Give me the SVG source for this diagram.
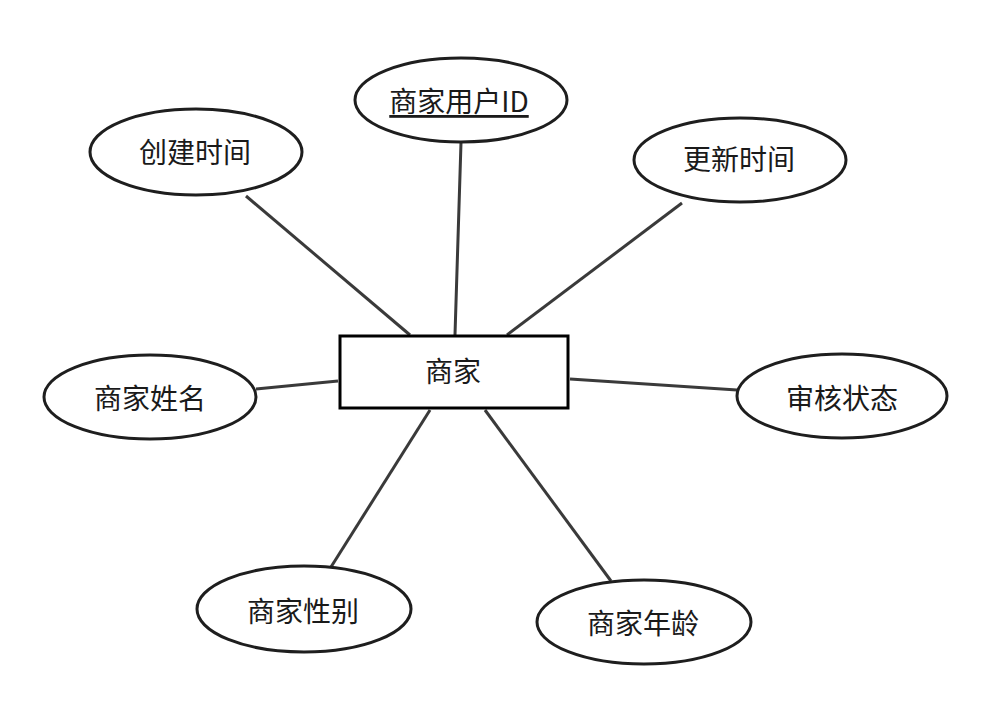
<svg xmlns="http://www.w3.org/2000/svg" width="992" height="720" viewBox="0 0 992 720">
<style>
.attr ellipse{fill:#fff;stroke:#1e1e1e;stroke-width:3}
.ent rect{fill:#fff;stroke:#000;stroke-width:3}
text{font-family:"Microsoft YaHei","Noto Sans CJK SC","Noto Sans",sans-serif;font-size:28px;fill:#1a1a1a;text-anchor:middle;dominant-baseline:central}
.conn line{stroke:#3a3a3a;stroke-width:3}
</style>
<rect width="992" height="720" fill="#fff"/>
<g class="conn" id="connectors">
<line x1="246" y1="196" x2="410" y2="335"/>
<line x1="461" y1="143" x2="455" y2="335"/>
<line x1="682" y1="203" x2="507" y2="335"/>
<line x1="256" y1="389" x2="338" y2="381"/>
<line x1="570" y1="379" x2="737" y2="390"/>
<line x1="331" y1="567" x2="430" y2="410"/>
<line x1="611" y1="581" x2="485" y2="410"/>
</g>
<g class="ent" id="merchant">
<rect x="340" y="336" width="228" height="72"/>
<text x="453" y="370">商家</text>
</g>
<g class="attr" id="attr-id">
<ellipse cx="461" cy="100" rx="106" ry="42"/>
<text x="459" y="100" text-decoration="underline">商家用户ID</text>
</g>
<g class="attr" id="attr-created">
<ellipse cx="196" cy="152" rx="106" ry="43"/>
<text x="195" y="151">创建时间</text>
</g>
<g class="attr" id="attr-updated">
<ellipse cx="740" cy="160" rx="106" ry="42"/>
<text x="739" y="158">更新时间</text>
</g>
<g class="attr" id="attr-name">
<ellipse cx="150" cy="397" rx="106" ry="42"/>
<text x="150" y="397">商家姓名</text>
</g>
<g class="attr" id="attr-status">
<ellipse cx="842" cy="396" rx="105" ry="42"/>
<text x="842" y="397">审核状态</text>
</g>
<g class="attr" id="attr-gender">
<ellipse cx="304" cy="609" rx="107" ry="43"/>
<text x="303" y="610">商家性别</text>
</g>
<g class="attr" id="attr-age">
<ellipse cx="644" cy="622" rx="107" ry="42"/>
<text x="643" y="622">商家年龄</text>
</g>
</svg>
